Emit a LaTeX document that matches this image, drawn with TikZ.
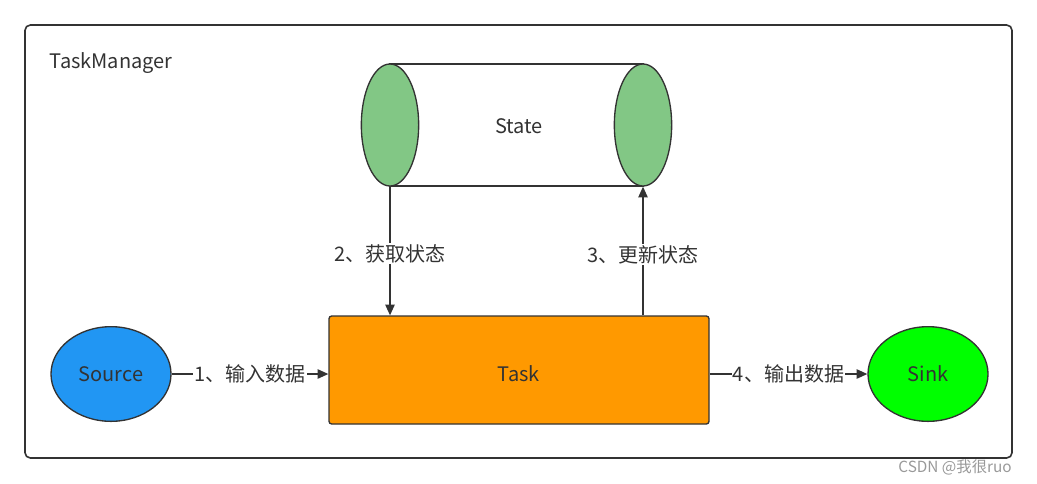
\documentclass[tikz,border=0pt]{standalone}
\usepackage{fontspec}
\setmainfont{Noto Sans CJK SC}
\usepackage{tikz}
\usetikzlibrary{
	positioning,
	arrows.meta,
	shapes.geometric
}

\definecolor{linegray}{HTML}{333333}
\definecolor{stategreen}{HTML}{82C785}
\definecolor{sourceblue}{HTML}{2196F3}
\definecolor{taskorange}{HTML}{FF9900}
\definecolor{sinkgreen}{HTML}{00FF00}

\tikzset{
	every node/.style={font=\fontsize{15pt}{17pt}\selectfont, text=linegray},
	blob/.style={ellipse, draw=linegray, line width=1pt, minimum width=90pt, minimum height=71pt, inner sep=0pt},
	stateend/.style={ellipse, draw=linegray, line width=1pt, fill=stategreen, minimum width=43pt, minimum height=91.5pt, inner sep=0pt},
	flow/.style={-{Triangle[length=8pt,width=7pt]}, draw=linegray, line width=1pt},
	tag/.style={fill=white, inner sep=1pt}
}

\begin{document}
\begin{tikzpicture}[x=0.75pt, y=-0.75pt]
	\useasboundingbox (0,0) rectangle (1037,483);
	% frame
	\draw[linegray, line width=1.2pt, rounded corners=4pt] (25,25) rectangle (1012,458);
	\node[anchor=west] (tm) at (45,63) {TaskManager};
	% state cylinder
	\coordinate (sl) at (390,125);
	\coordinate (sr) at (643,125);
	\draw[linegray, line width=1pt, fill=white] (390,64) -- (643,64) -- (643,186) -- (390,186) -- cycle;
	\node[stateend] (endl) at (sl) {};
	\node[stateend] (endr) at (sr) {};
	\node (state) at (519,126) {State};
	% task and ends
	\node[draw=linegray, line width=1pt, fill=taskorange, rounded corners=2pt, minimum width=285pt, minimum height=81pt] (task) at (519,370) {};
	\node (tasktext) at (519,374) {Task};
	\node[blob, fill=sourceblue] (source) at (111,374) {Source};
	\node[blob, fill=sinkgreen] (sink) at (928,374) {Sink};
	% connectors
	\draw[flow] (source.east) -- node[tag] {1、输入数据} (source.east -| task.west);
	\draw[flow] (sink.west -| task.east) -- node[tag] {4、输出数据} (sink.west);
	\draw[flow] (endl.south) -- node[tag, pos=0.52] {2、获取状态} (endl.south |- task.north);
	\draw[flow] (endr.south |- task.north) -- node[tag, pos=0.47] {3、更新状态} (endr.south);
	% watermark
	\node[font=\fontsize{11.5pt}{13pt}\selectfont, text=gray!80] (mark) at (955,467) {CSDN @我很ruo};
\end{tikzpicture}
\end{document}
